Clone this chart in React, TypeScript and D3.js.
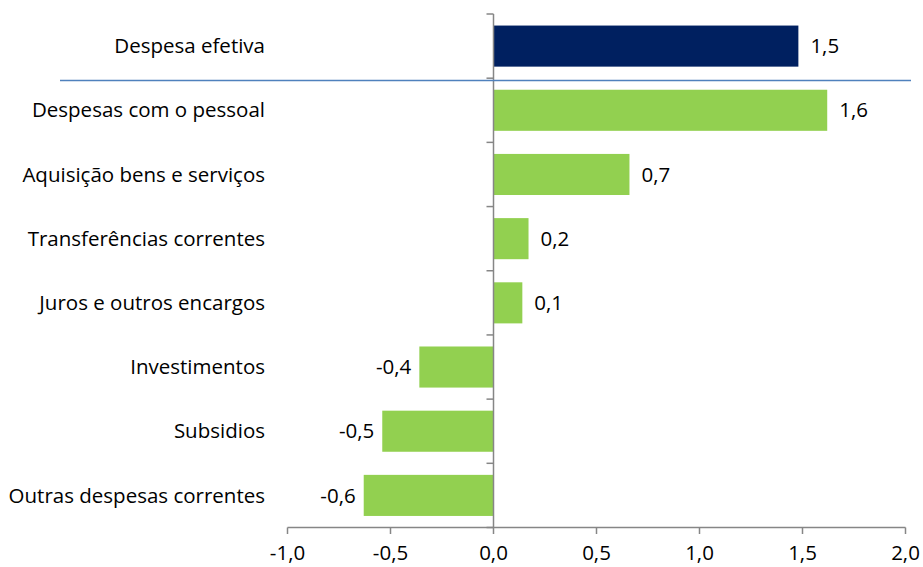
import React, {useEffect, useRef} from 'react';
import * as d3 from 'd3';

// categories top to bottom, first one is the total
const categories = [
    'Despesa efetiva',
    'Despesas com o pessoal',
    'Aquisição bens e serviços',
    'Transferências correntes',
    'Juros e outros encargos',
    'Investimentos',
    'Subsidios',
    'Outras despesas correntes'
];
const values = [1.48, 1.62, 0.66, 0.17, 0.14, -0.36, -0.54, -0.63];
const valueLabels = ['1,5', '1,6', '0,7', '0,2', '0,1', '-0,4', '-0,5', '-0,6'];
const xTicks = [-1.0, -0.5, 0.0, 0.5, 1.0, 1.5, 2.0];
const xTickLabels = ['-1,0', '-0,5', '0,0', '0,5', '1,0', '1,5', '2,0'];

const width = 923;
const height = 567;
const font = '"Open Sans", Lato, sans-serif';
const fontSize = '20.5px';
const axisColor = '#868686';

const App = () => {
    const svgRef = useRef<SVGSVGElement>(null);

    useEffect(() => {
        const svg = d3.select(svgRef.current);
        svg.selectAll('*').remove();

        const x = d3.scaleLinear().domain([-1, 2]).range([287.5, 905.5]);
        const y = d3.scaleBand().domain(categories).range([14, 527.5]).paddingInner(0.36).paddingOuter(0.18);

        // bars
        svg.append('g')
            .selectAll('rect')
            .data(values)
            .enter().append('rect')
            .attr('x', (d) => x(Math.min(0, d)))
            .attr('width', (d) => Math.abs(x(d) - x(0)))
            .attr('y', (d, i) => y(categories[i]))
            .attr('height', y.bandwidth())
            .attr('fill', (d, i) => i === 0 ? '#002060' : '#92d050');

        // value labels
        svg.append('g')
            .selectAll('text')
            .data(values)
            .enter().append('text')
            .attr('x', (d) => d >= 0 ? x(d) + 12 : x(d) - 8)
            .attr('y', (d, i) => y(categories[i]) + y.bandwidth() / 2)
            .attr('dy', '0.35em')
            .attr('text-anchor', (d) => d >= 0 ? 'start' : 'end')
            .style('font-family', font)
            .style('font-size', fontSize)
            .attr('fill', '#000')
            .text((d, i) => valueLabels[i]);

        // category labels
        svg.append('g')
            .selectAll('text')
            .data(categories)
            .enter().append('text')
            .attr('x', 265)
            .attr('y', (d) => y(d) + y.bandwidth() / 2)
            .attr('dy', '0.35em')
            .attr('text-anchor', 'end')
            .style('font-family', font)
            .style('font-size', fontSize)
            .attr('fill', '#000')
            .text((d) => d);

        // vertical axis at zero with ticks between categories
        const yAxis = svg.append('g');
        yAxis.append('line')
            .attr('x1', x(0)).attr('x2', x(0))
            .attr('y1', 14).attr('y2', 527.5)
            .attr('stroke', axisColor).attr('stroke-width', 1.5);
        yAxis.selectAll('.ytick')
            .data(d3.range(categories.length + 1))
            .enter().append('line')
            .attr('x1', x(0) - 7).attr('x2', x(0))
            .attr('y1', (i) => 14 + i * (527.5 - 14) / categories.length)
            .attr('y2', (i) => 14 + i * (527.5 - 14) / categories.length)
            .attr('stroke', axisColor).attr('stroke-width', 1.5);

        // horizontal axis
        const xAxis = svg.append('g');
        xAxis.append('line')
            .attr('x1', x(-1)).attr('x2', x(2))
            .attr('y1', 527.5).attr('y2', 527.5)
            .attr('stroke', axisColor).attr('stroke-width', 1.5);
        xAxis.selectAll('.xtick')
            .data(xTicks)
            .enter().append('line')
            .attr('x1', (d) => x(d)).attr('x2', (d) => x(d))
            .attr('y1', 527.5).attr('y2', 534)
            .attr('stroke', axisColor).attr('stroke-width', 1.5);
        xAxis.selectAll('text')
            .data(xTicks)
            .enter().append('text')
            .attr('x', (d) => x(d))
            .attr('y', 560)
            .attr('text-anchor', 'middle')
            .style('font-family', font)
            .style('font-size', fontSize)
            .attr('fill', '#000')
            .text((d, i) => xTickLabels[i]);

        // separator between total and components
        svg.append('line')
            .attr('x1', 60).attr('x2', 911)
            .attr('y1', 80.5).attr('y2', 80.5)
            .attr('stroke', '#4f81bd').attr('stroke-width', 1.5);
    }, []);

    return <svg ref={svgRef} width={width} height={height}
                style={{position: 'absolute', left: 0, top: 0, background: '#fff'}}/>;
};

export default App;
